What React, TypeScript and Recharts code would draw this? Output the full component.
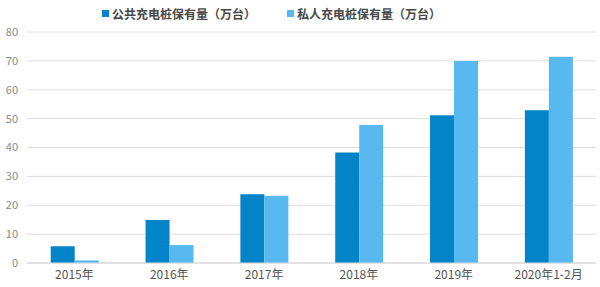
import { Bar, BarChart, CartesianGrid, XAxis, YAxis } from "recharts";

const years = ["2015年", "2016年", "2017年", "2018年", "2019年", "2020年1-2月"];
const publicPiles = [5.8, 14.9, 23.8, 38.3, 51.2, 52.9];
const privatePiles = [0.9, 6.2, 23.3, 47.8, 70.0, 71.4];
const yTicks = [0, 10, 20, 30, 40, 50, 60, 70, 80];

const PUBLIC_NAME = "公共充电桩保有量（万台）";
const PRIVATE_NAME = "私人充电桩保有量（万台）";
const PUBLIC_COLOR = "#0484c8";
const PRIVATE_COLOR = "#58b9f0";

const data = years.map((year, i) => ({
  year,
  public: publicPiles[i],
  private: privatePiles[i],
}));

const font = '"Noto Sans CJK SC", "Noto Sans", sans-serif';

// legend drawn over the chart so it doesn't push the plot down
function TopLegend() {
  const items = [
    { name: PUBLIC_NAME, color: PUBLIC_COLOR },
    { name: PRIVATE_NAME, color: PRIVATE_COLOR },
  ];
  return (
    <div style={{ position: "absolute", left: 102, top: 5, display: "flex", gap: 31, fontFamily: font }}>
      {items.map((it) => (
        <div key={it.name} style={{ display: "flex", alignItems: "center", fontSize: 12, fontWeight: 700, color: "#484848" }}>
          <span style={{ display: "inline-block", width: 7, height: 7, background: it.color, marginRight: 3 }} />
          {it.name}
        </div>
      ))}
    </div>
  );
}

export default function App() {
  return (
    <div style={{ position: "absolute", left: 0, top: 0, width: 600, height: 287, background: "#fff" }}>
      <BarChart
        width={600}
        height={287}
        data={data}
        margin={{ top: 32, right: 4, bottom: 3, left: 5 }}
        barCategoryGap="25%"
        barGap={0}
      >
        <CartesianGrid vertical={false} stroke="#dedede" />
        <XAxis
          dataKey="year"
          axisLine={{ stroke: "#d6d6d6" }}
          tickLine={false}
          tickSize={0}
          tickMargin={7}
          height={21}
          tick={{ fill: "#555", fontSize: 12, fontFamily: font }}
          interval={0}
        />
        <YAxis
          domain={[0, 80]}
          ticks={yTicks}
          axisLine={false}
          tickLine={false}
          tickSize={0}
          tickMargin={9}
          width={22}
          tick={{ fill: "#8a8a8a", fontSize: 11, fontFamily: font }}
        />
        <Bar dataKey="public" name={PUBLIC_NAME} fill={PUBLIC_COLOR} isAnimationActive={false} />
        <Bar dataKey="private" name={PRIVATE_NAME} fill={PRIVATE_COLOR} isAnimationActive={false} />
      </BarChart>
      <TopLegend />
    </div>
  );
}
